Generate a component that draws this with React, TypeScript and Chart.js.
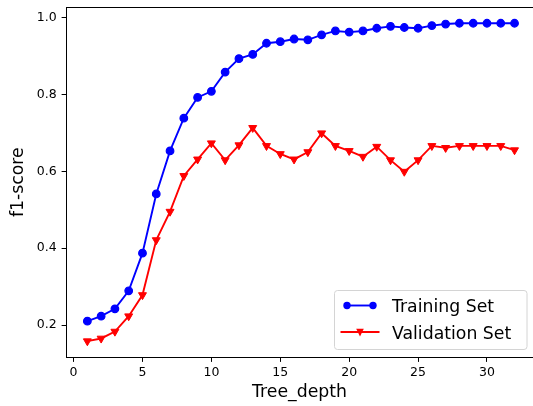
import React, { useEffect, useRef } from "react";
import { Chart, registerables } from "chart.js";

Chart.register(...registerables);

const treeDepth = [1, 2, 3, 4, 5, 6, 7, 8, 9, 10, 11, 12, 13, 14, 15, 16, 17, 18, 19, 20, 21, 22, 23, 24, 25, 26, 27, 28, 29, 30, 31, 32];
const trainingF1 = [0.210, 0.223, 0.242, 0.289, 0.387, 0.541, 0.653, 0.738, 0.792, 0.808, 0.858, 0.893, 0.904, 0.933, 0.937, 0.944, 0.942, 0.955, 0.965, 0.962, 0.965, 0.972, 0.977, 0.974, 0.972, 0.979, 0.983, 0.985, 0.985, 0.985, 0.985, 0.985];
const validationF1 = [0.158, 0.165, 0.183, 0.223, 0.278, 0.421, 0.495, 0.588, 0.631, 0.673, 0.629, 0.668, 0.713, 0.666, 0.645, 0.631, 0.650, 0.699, 0.666, 0.653, 0.638, 0.664, 0.629, 0.599, 0.629, 0.666, 0.661, 0.666, 0.666, 0.666, 0.666, 0.655];
const xTickValues = [0, 5, 10, 15, 20, 25, 30];
const yTickValues = [0.2, 0.4, 0.6, 0.8, 1.0];
const seriesLabels = ["Training Set", "Validation Set"];
const axisTitles = { x: "Tree_depth", y: "f1-score" };

const FONT = "'DejaVu Sans', sans-serif";
const BLUE = "#0000ff";
const RED = "#ff0000";

const zeroPadding = (s: any) => {
  s.paddingTop = 0;
  s.paddingBottom = 0;
  s.paddingLeft = 0;
  s.paddingRight = 0;
};

export default function App() {
  const ref = useRef<HTMLCanvasElement>(null);

  useEffect(() => {
    const canvas = ref.current!;

    const framePlugin = {
      id: "frameTop",
      afterDraw(chart: any) {
        const { ctx, chartArea } = chart;
        ctx.save();
        ctx.strokeStyle = "#000";
        ctx.lineWidth = 1;
        ctx.beginPath();
        const y = Math.round(chartArea.top) + 0.5;
        ctx.moveTo(chartArea.left, y);
        ctx.lineTo(chartArea.right, y);
        ctx.stroke();
        ctx.restore();
      },
    };

    const legendPlugin = {
      id: "mplLegend",
      afterDraw(chart: any) {
        const { ctx, chartArea } = chart;
        const right = chartArea.right - 6.5;
        const bottom = chartArea.bottom - 9;
        const w = 192.5;
        const h = 59;
        const bx = Math.round(right - w) + 0.5;
        const by = Math.round(bottom - h) + 0.5;
        ctx.save();
        ctx.beginPath();
        ctx.roundRect(bx, by, w, h, 3);
        ctx.fillStyle = "rgba(255,255,255,0.8)";
        ctx.fill();
        ctx.strokeStyle = "#d4d4d4";
        ctx.lineWidth = 1;
        ctx.stroke();

        // Training entry
        const y1 = by + 15;
        ctx.strokeStyle = BLUE;
        ctx.lineWidth = 1.9;
        ctx.beginPath();
        ctx.moveTo(bx + 12.5, y1);
        ctx.lineTo(bx + 38.5, y1);
        ctx.stroke();
        ctx.fillStyle = BLUE;
        for (const cx of [bx + 12.5, bx + 38.5]) {
          ctx.beginPath();
          ctx.arc(cx, y1, 3.7, 0, Math.PI * 2);
          ctx.fill();
        }

        // Validation entry
        const y2 = by + 41.5;
        ctx.strokeStyle = RED;
        ctx.beginPath();
        ctx.moveTo(bx + 6, y2);
        ctx.lineTo(bx + 45, y2);
        ctx.stroke();
        ctx.fillStyle = RED;
        const tx = bx + 25.5;
        ctx.beginPath();
        ctx.moveTo(tx - 3.8, y2 - 3.2);
        ctx.lineTo(tx + 3.8, y2 - 3.2);
        ctx.lineTo(tx, y2 + 4.5);
        ctx.closePath();
        ctx.fill();

        ctx.fillStyle = "#000";
        ctx.font = `17.3px ${FONT}`;
        ctx.textBaseline = "alphabetic";
        ctx.textAlign = "left";
        ctx.fillText(seriesLabels[0], bx + 57.5, by + 21);
        ctx.fillText(seriesLabels[1], bx + 57.5, by + 48);
        ctx.restore();
      },
    };

    const chart = new Chart(canvas, {
      type: "line",
      data: {
        datasets: [
          {
            label: seriesLabels[0],
            data: treeDepth.map((d, i) => ({ x: d, y: trainingF1[i] })),
            borderColor: BLUE,
            backgroundColor: BLUE,
            borderWidth: 1.9,
            pointStyle: "circle",
            pointRadius: 3.8,
            pointBorderWidth: 1.2,
            pointBackgroundColor: BLUE,
            pointBorderColor: BLUE,
            tension: 0,
          },
          {
            label: seriesLabels[1],
            data: treeDepth.map((d, i) => ({ x: d, y: validationF1[i] })),
            borderColor: RED,
            backgroundColor: RED,
            borderWidth: 1.9,
            pointStyle: "triangle",
            rotation: 180,
            pointRadius: 4.6,
            pointBorderWidth: 1,
            pointBackgroundColor: RED,
            pointBorderColor: RED,
            tension: 0,
          },
        ],
      },
      options: {
        responsive: false,
        devicePixelRatio: 1,
        animation: false,
        events: [],
        layout: { autoPadding: false, padding: { top: 7, left: 0, right: 0, bottom: 0 } },
        plugins: {
          legend: { display: false },
          tooltip: { enabled: false },
        },
        scales: {
          x: {
            type: "linear",
            min: -0.55,
            max: 33.34,
            afterBuildTicks: (s: any) => {
              s.ticks = xTickValues.map((v) => ({ value: v }));
            },
            afterFit: (s: any) => {
              s.height = 48.5;
              zeroPadding(s);
            },
            ticks: {
              font: { family: FONT, size: 12.5 },
              color: "#000",
              padding: 3,
              maxRotation: 0,
              autoSkip: false,
              callback: (v: any) => String(v),
            },
            grid: {
              drawOnChartArea: false,
              drawTicks: true,
              tickLength: 4.4,
              tickWidth: 1,
              tickColor: "#000",
            },
            border: { display: true, color: "#000", width: 1 },
            title: {
              display: true,
              text: axisTitles.x,
              font: { family: FONT, size: 17.3 },
              color: "#000",
              padding: { top: 0, bottom: 3 },
            },
          },
          y: {
            type: "linear",
            min: 0.1155,
            max: 1.0273,
            afterBuildTicks: (s: any) => {
              s.ticks = yTickValues.map((v) => ({ value: v }));
            },
            afterFit: (s: any) => {
              s.width = 66;
              zeroPadding(s);
            },
            ticks: {
              font: { family: FONT, size: 12.5 },
              color: "#000",
              padding: 5,
              autoSkip: false,
              callback: (v: any) => Number(v).toFixed(1),
            },
            grid: {
              drawOnChartArea: false,
              drawTicks: true,
              tickLength: 4.4,
              tickWidth: 1,
              tickColor: "#000",
            },
            border: { display: true, color: "#000", width: 1 },
            title: {
              display: true,
              text: axisTitles.y,
              font: { family: FONT, size: 17.3 },
              color: "#000",
              padding: { top: 8, bottom: 0 },
            },
          },
        },
      },
      plugins: [framePlugin, legendPlugin],
    } as any);

    return () => chart.destroy();
  }, []);

  return (
    <div style={{ position: "fixed", left: 0, top: 0, width: 533, height: 406, background: "#fff" }}>
      <canvas ref={ref} width={533} height={406} style={{ display: "block", width: 533, height: 406 }} />
    </div>
  );
}
